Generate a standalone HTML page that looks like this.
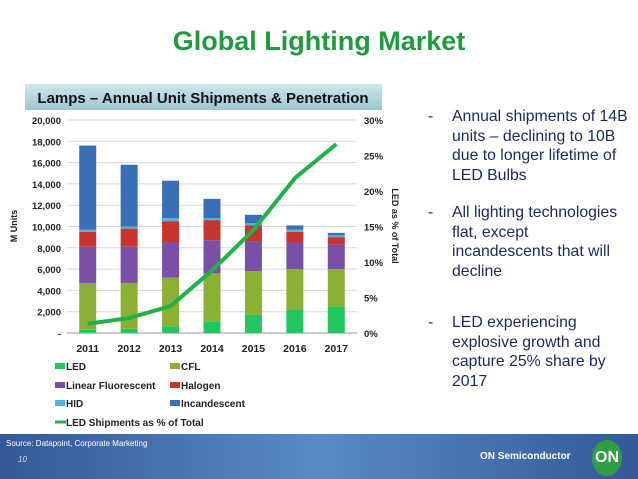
<!DOCTYPE html>
<html><head><meta charset="utf-8"><style>
body{margin:0;width:638px;height:479px;overflow:hidden;background:#fff;font-family:"Liberation Sans",sans-serif;position:relative}
.t{position:absolute}
#title{left:0;width:638px;top:26px;text-align:center;color:#1f9a3f;font-weight:bold;font-size:27px}
.b{position:absolute;left:428px;width:178px;padding-left:24px;color:#1a2a5a;font-size:15.8px;line-height:19.5px}
.b span{position:absolute;left:0}
#footer{left:0;top:434px;width:638px;height:45px;background:linear-gradient(90deg,#33599a,#5a8ac8 50%,#33599a)}
</style></head><body>
<div class="t" id="title">Global Lighting Market</div>
<div class="b" style="top:107px"><span>-</span>Annual shipments of 14B units – declining to 10B due to longer lifetime of LED Bulbs</div>
<div class="b" style="top:203px"><span>-</span>All lighting technologies flat, except incandescents that will decline</div>
<div class="b" style="top:313px"><span>-</span>LED experiencing explosive growth and capture 25% share by 2017</div>
<svg class="t" style="left:0;top:0" width="420" height="434" font-family="Liberation Sans, sans-serif">
<defs>
<linearGradient id="ban" x1="0" y1="0" x2="0" y2="1"><stop offset="0" stop-color="#cfe6ea"/><stop offset="1" stop-color="#9cc7cf"/></linearGradient>
</defs>
<rect x="25" y="84" width="357" height="26" fill="url(#ban)"/>
<text x="203" y="103" text-anchor="middle" font-size="15" font-weight="bold" fill="#111">Lamps – Annual Unit Shipments &amp; Penetration</text>
<g id="g"></g>
<text transform="translate(17,226) rotate(-90)" text-anchor="middle" font-size="9" font-weight="bold" fill="#222">M Units</text>
<text transform="translate(392,226) rotate(90)" text-anchor="middle" font-size="9" font-weight="bold" fill="#222">LED as % of Total</text>
</svg>
<div class="t" id="footer"></div>
<div class="t" style="left:6px;top:439px;font-size:8px;color:#fff">Source: Datapoint, Corporate Marketing</div>
<div class="t" style="left:18px;top:455px;font-size:8px;color:#dde;font-style:italic">10</div>
<div class="t" style="left:480px;top:451px;font-size:10px;font-weight:bold;color:#fff">ON Semiconductor</div>
<div class="t" style="left:592px;top:440px;width:30px;height:36px;border-radius:50%;background:#2ea043;color:#fff;font-weight:bold;font-size:16px;text-align:center;line-height:36px">ON</div>
<script>
const years=["2011","2012","2013","2014","2015","2016","2017"];
const led=[300,400,600,1100,1700,2200,2500];
const cfl=[4400,4300,4600,4500,4100,3800,3500];
const linear=[3400,3400,3300,3100,2800,2500,2300];
const halogen=[1400,1700,2000,1900,1500,1000,700];
const hid=[200,200,300,200,200,200,200];
const incandescent=[7900,5800,3500,1800,800,400,200];
const ledPct=[1.3,2.1,3.8,8.8,14.5,21.8,26.6];
const yTicks=[0,2000,4000,6000,8000,10000,12000,14000,16000,18000,20000];
const y2Ticks=[0,5,10,15,20,25,30];
const NS="http://www.w3.org/2000/svg";
const g=document.getElementById('g');
const x0=67,x1=357,yb=333,yt=120;
const y=v=>yb-(v/20000)*(yb-yt);
const y2=v=>yb-(v/30)*(yb-yt);
const xc=i=>x0+(x1-x0)*(i+0.5)/years.length;
function el(t,a){const e=document.createElementNS(NS,t);for(const k in a)e.setAttribute(k,a[k]);g.appendChild(e);return e;}
yTicks.forEach(v=>{
 const l=el('line',{x1:x0,x2:x1,y1:y(v),y2:y(v),stroke:'#d8d8d8','stroke-width':1});
 
 
 const t=el('text',{x:61,y:y(v)+4,'text-anchor':'end','font-size':9.5,'font-weight':'bold',fill:'#222'});
 t.textContent=v===0?'-':v.toLocaleString('en-US');
 
 
});
y2Ticks.forEach(v=>{
 const t=el('text',{x:364,y:y2(v)+4,'font-size':9.5,'font-weight':'bold',fill:'#222'});
 t.textContent=v+'%';
 
 
});
const ax=el('line',{x1:x0,x2:x1,y1:yb,y2:yb,stroke:'#999'});


const series=[[led,'#22c55e','led'],[cfl,'#8cb033','cfl'],[linear,'#7a4fa8','linear-fluorescent'],[halogen,'#c8342e','halogen'],[hid,'#4fb3d6','hid'],[incandescent,'#3a6fb8','incandescent']];
years.forEach((yr,i)=>{
 let acc=0;
 series.forEach(([arr,c,n])=>{
  const r=el('rect',{x:xc(i)-8.5,y:y(acc+arr[i]),width:17,height:y(acc)-y(acc+arr[i]),fill:c});
  
  
  acc+=arr[i];
 });
 const t=el('text',{x:xc(i),y:352,'text-anchor':'middle','font-size':10.5,'font-weight':'bold',fill:'#222'});
 t.textContent=yr;
 
 
});
const p=el('polyline',{points:ledPct.map((v,i)=>xc(i)+','+y2(v)).join(' '),fill:'none',stroke:'#22b04a','stroke-width':4});


const leg=[['LED','#22c55e',55,368],['CFL','#8cb033',170,368],['Linear Fluorescent','#7a4fa8',55,387],['Halogen','#c8342e',170,387],['HID','#4fb3d6',55,405],['Incandescent','#3a6fb8',170,405]];
leg.forEach(([n,c,lx,ly])=>{
 const r=el('rect',{x:lx,y:ly-5,width:10,height:6,fill:c});
 
 
 const t=el('text',{x:lx+11,y:ly+2,'font-size':10,'font-weight':'bold',fill:'#222'});
 t.textContent=n;
 
 
});
const ll=el('line',{x1:55,x2:66,y1:422,y2:422,stroke:'#22b04a','stroke-width':3});


const lt=el('text',{x:66,y:426,'font-size':10,'font-weight':'bold',fill:'#222'});
lt.textContent='LED Shipments as % of Total';


</script>
</body></html>
